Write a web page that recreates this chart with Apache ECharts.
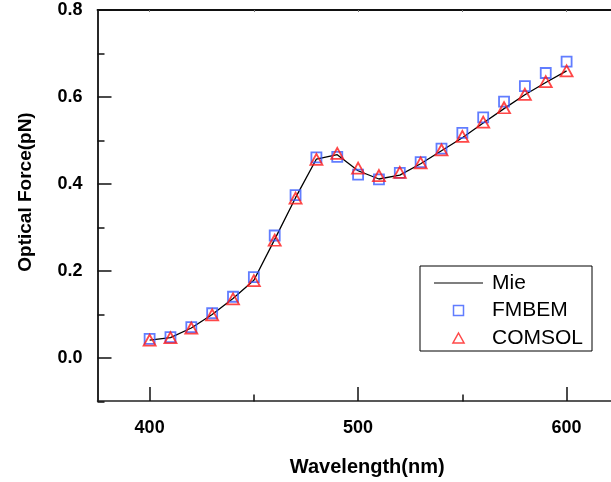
<!DOCTYPE html>
<html>
<head>
<meta charset="utf-8">
<script src="https://cdn.jsdelivr.net/npm/echarts@6/dist/echarts.min.js"></script>
<style>
html,body{margin:0;padding:0;background:#fff;}
#c{width:611px;height:482px;}
</style>
</head>
<body>
<div id="c"></div>
<script>
const wavelength = [400,410,420,430,440,450,460,470,480,490,500,510,520,530,540,550,560,570,580,590,600];
const mie    = [0.040,0.046,0.068,0.099,0.136,0.178,0.272,0.368,0.457,0.467,0.430,0.411,0.420,0.446,0.476,0.506,0.540,0.573,0.605,0.633,0.660];
const fmbem  = [0.043,0.047,0.070,0.102,0.140,0.185,0.281,0.374,0.461,0.462,0.421,0.410,0.425,0.450,0.481,0.517,0.553,0.589,0.625,0.655,0.681];
const comsol = [0.040,0.046,0.068,0.098,0.135,0.177,0.270,0.367,0.456,0.470,0.436,0.419,0.426,0.448,0.478,0.509,0.542,0.575,0.606,0.635,0.660];
const xMajorTicks = [400,500,600];
const xMinorTicks = [450,550];
const xTopTicks = [400,450,500,550,600];
const yMajorTicks = [0,0.2,0.4,0.6,0.8];
const yMinorTicks = [-0.1,0.1,0.3,0.5,0.7];

const FONT = 'Arial, "Liberation Sans", sans-serif';
const BLUE = '#3a5cff';
const RED = '#ff1a1a';
const X_MIN = 375, X_MAX = 621.3;
const pairs = ys => wavelength.map((x,i)=>[x, ys[i]]);
const gridBox = {left:97.5, top:10, right:0, height:391.5};

const chart = echarts.init(document.getElementById('c'), null, {renderer:'canvas'});
chart.setOption({
  animation:false,
  backgroundColor:'#fff',
  grid:[Object.assign({}, gridBox), Object.assign({}, gridBox)],
  xAxis:[
    {
      type:'value', gridIndex:0, position:'bottom', min:X_MIN, max:X_MAX,
      axisLine:{show:true, onZero:false, lineStyle:{color:'#222', width:1.5}},
      axisTick:{show:true, inside:true, length:14, customValues:xMajorTicks, lineStyle:{color:'#111', width:1.5}},
      axisLabel:{show:true, customValues:xMajorTicks, margin:18, fontSize:18, fontWeight:'bold', color:'#000', fontFamily:FONT},
      splitLine:{show:false},
      name:'Wavelength(nm)', nameLocation:'middle', nameGap:56,
      nameTextStyle:{fontSize:20, fontWeight:'bold', color:'#000', fontFamily:FONT, padding:[0,0,0,26]}
    },
    {
      type:'value', gridIndex:0, position:'top', min:X_MIN, max:X_MAX,
      axisLine:{show:true, onZero:false, lineStyle:{color:'#111', width:1.8}},
      axisTick:{show:true, inside:true, length:2, customValues:xTopTicks, lineStyle:{color:'#777', width:1}},
      axisLabel:{show:false},
      splitLine:{show:false}
    },
    {
      type:'value', gridIndex:1, position:'bottom', min:X_MIN, max:X_MAX,
      axisLine:{show:false, onZero:false},
      axisTick:{show:true, inside:true, length:7, customValues:xMinorTicks, lineStyle:{color:'#111', width:1.5}},
      axisLabel:{show:false},
      splitLine:{show:false}
    }
  ],
  yAxis:[
    {
      type:'value', gridIndex:0, position:'left', min:-0.1, max:0.8,
      axisLine:{show:true, onZero:false, lineStyle:{color:'#111', width:1.8}},
      axisTick:{show:true, inside:true, length:14, customValues:yMajorTicks, lineStyle:{color:'#111', width:1.5}},
      axisLabel:{show:true, customValues:yMajorTicks, margin:15, fontSize:18, fontWeight:'bold', color:'#000', fontFamily:FONT,
        formatter:v=>Number(v).toFixed(1)},
      splitLine:{show:false},
      name:'Optical Force(pN)', nameLocation:'middle', nameGap:62, nameRotate:90,
      nameTextStyle:{fontSize:19, fontWeight:'bold', color:'#000', fontFamily:FONT, padding:[0,0,0,27]}
    },
    {
      type:'value', gridIndex:1, position:'left', min:-0.1, max:0.8,
      axisLine:{show:false, onZero:false},
      axisTick:{show:true, inside:true, length:7, customValues:yMinorTicks, lineStyle:{color:'#111', width:1.5}},
      axisLabel:{show:false},
      splitLine:{show:false}
    }
  ],
  legend:{
    orient:'vertical', left:420, top:266,
    borderColor:'#000', borderWidth:1, backgroundColor:'#fff',
    padding:[6,9,2,14],
    itemWidth:49, itemHeight:10, itemGap:5.5,
    symbolKeepAspect:true,
    textStyle:{fontSize:21, color:'#000', fontFamily:FONT, lineHeight:22, padding:[0,0,0,4]},
    data:[
      {name:'Mie', icon:'path://M0,4.5L49,4.5L49,5.6L0,5.6Z', itemStyle:{color:'#000', borderWidth:0}},
      {name:'FMBEM', icon:'path://M0,0L10,0L10,10L0,10Z',
        itemStyle:{color:'rgba(0,0,0,0)', borderColor:BLUE, borderWidth:1.5}},
      {name:'COMSOL', icon:'path://M5,0L10,9L0,9Z',
        itemStyle:{color:'rgba(0,0,0,0)', borderColor:RED, borderWidth:1.5}}
    ]
  },
  series:[
    {
      name:'Mie', type:'line', xAxisIndex:0, yAxisIndex:0,
      data:pairs(mie), symbol:'none', showSymbol:false, smooth:false,
      lineStyle:{color:'#000', width:1.3}, itemStyle:{color:'#000'}, z:2
    },
    {
      name:'FMBEM', type:'scatter', xAxisIndex:0, yAxisIndex:0,
      data:pairs(fmbem), symbol:'rect', symbolSize:10,
      itemStyle:{color:'rgba(0,0,0,0)', borderColor:BLUE, borderWidth:1.8}, z:3
    },
    {
      name:'COMSOL', type:'scatter', xAxisIndex:0, yAxisIndex:0,
      data:pairs(comsol), symbol:'triangle', symbolSize:[12,11],
      itemStyle:{color:'rgba(0,0,0,0)', borderColor:RED, borderWidth:1.8}, z:4
    }
  ]
});
</script>
</body>
</html>
